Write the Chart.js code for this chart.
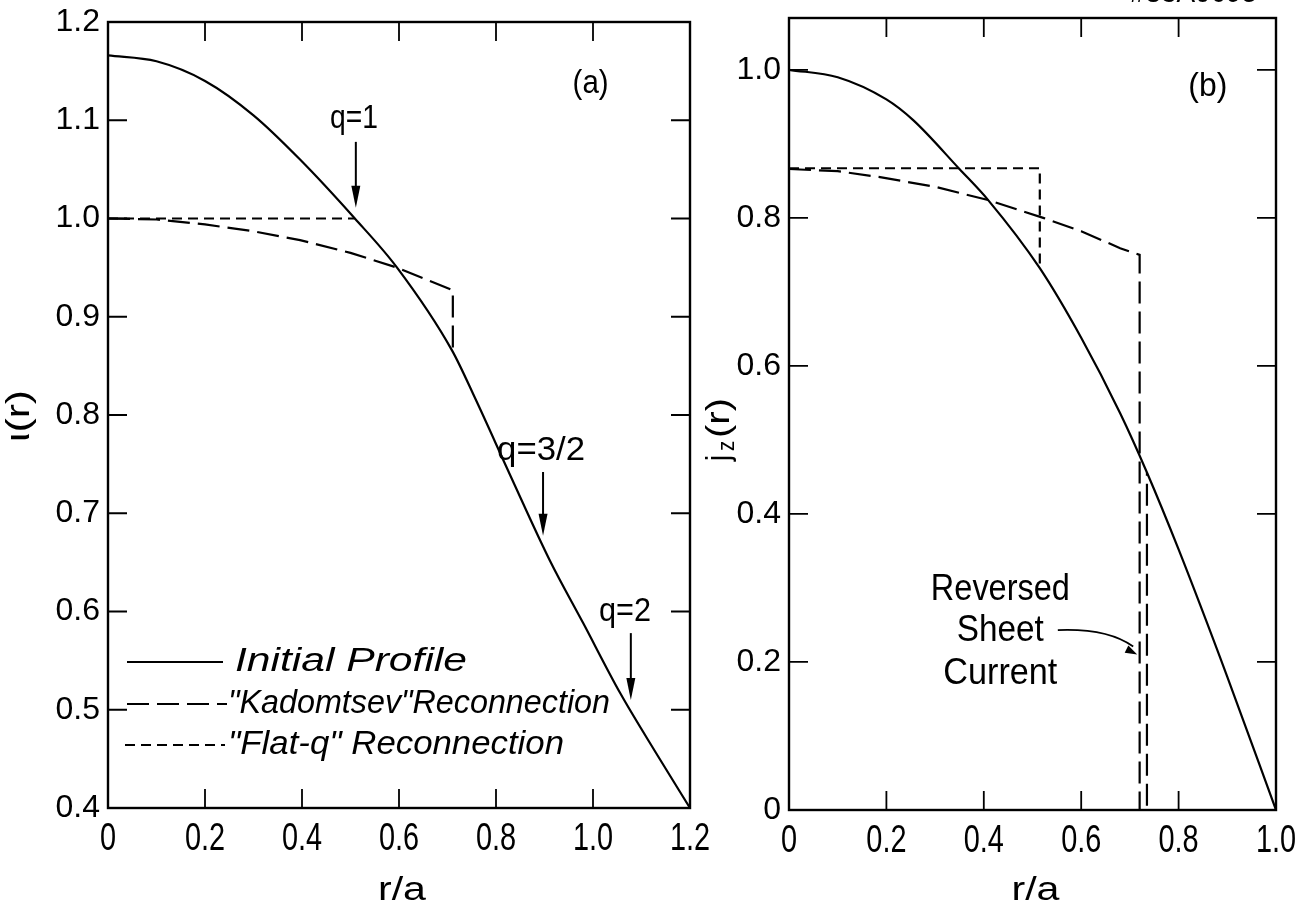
<!DOCTYPE html>
<html lang="en">
<head>
<meta charset="UTF-8">
<title>Iota and current profiles</title>
<script src="https://cdn.jsdelivr.net/npm/chart.js"></script>
<style>
  body { margin: 0; background: #fff; }
  #wrap { position: relative; width: 1306px; height: 908px; overflow: hidden; }
  canvas { position: absolute; top: 0; }
</style>
</head>
<body>
<div id="wrap">
  <canvas id="iotaChart" width="720" height="908" style="left:0"></canvas>
  <canvas id="currentChart" width="616" height="908" style="left:690px"></canvas>
</div>
<script>
// (a) rotational transform iota(r)
const iotaR       = [0, 0.1, 0.2, 0.3, 0.396, 0.509, 0.596, 0.709, 0.757, 0.83, 0.911, 0.98, 1.056, 1.13, 1.2];
const iotaInitial = [1.166, 1.16, 1.14, 1.105, 1.06, 1.0, 0.95, 0.866, 0.817, 0.738, 0.652, 0.588, 0.517, 0.456, 0.4];
const kadR        = [0, 0.1, 0.2, 0.3, 0.396, 0.5, 0.596, 0.711, 0.711];
const kadIota     = [1.0, 0.999, 0.994, 0.987, 0.978, 0.965, 0.95, 0.927, 0.866];
const flatR       = [0, 0.509];
const flatIota    = [1.0, 1.0];
const iotaTicksX  = [0, 0.2, 0.4, 0.6, 0.8, 1.0, 1.2];
const iotaTicksY  = [0.4, 0.5, 0.6, 0.7, 0.8, 0.9, 1.0, 1.1, 1.2];

// (b) current density jz(r)
const jR          = [0, 0.1, 0.2, 0.255, 0.35, 0.409, 0.515, 0.6, 0.68, 0.735, 0.8, 0.9, 1.0];
const jInitial    = [1.0, 0.99, 0.96, 0.932, 0.866, 0.824, 0.732, 0.638, 0.536, 0.456, 0.352, 0.18, 0];
const kadJR       = [0, 0.1, 0.187, 0.3, 0.409, 0.522, 0.6, 0.68, 0.72, 0.72, 0.735, 0.735];
const kadJ        = [0.866, 0.863, 0.855, 0.842, 0.824, 0.80, 0.782, 0.759, 0.75, 0, 0, 0.456];
const flatJR      = [0, 0.515, 0.515];
const flatJ       = [0.867, 0.867, 0.732];
const jTicks      = [0, 0.2, 0.4, 0.6, 0.8, 1.0];

const SANS = "'Liberation Sans', Arial, sans-serif";
const LONG_DASH  = [22, 8];
const SHORT_DASH = [10, 6];

const xy = (xs, ys) => xs.map((x, i) => ({ x, y: ys[i] }));
const fmt = v => (v === 0 ? '0' : v.toFixed(1));

// hand-lettered text is narrow: squeeze a string to a width (w) or by a factor (k)
function fitText(ctx, s, x, y, w, size, align, italic, k) {
  ctx.save();
  ctx.font = (italic ? 'italic ' : '') + size + 'px ' + SANS;
  ctx.textBaseline = 'middle';
  ctx.textAlign = align || 'center';
  const sx = k || w / ctx.measureText(s).width;
  ctx.translate(x, y);
  ctx.scale(sx, 1);
  ctx.fillText(s, 0, 0);
  ctx.restore();
}

function arrowHead(ctx, x, y, ang, len, half) {
  ctx.beginPath();
  ctx.moveTo(x, y);
  ctx.lineTo(x - len * Math.cos(ang) + half * Math.sin(ang), y - len * Math.sin(ang) - half * Math.cos(ang));
  ctx.lineTo(x - len * Math.cos(ang) - half * Math.sin(ang), y - len * Math.sin(ang) + half * Math.cos(ang));
  ctx.closePath();
  ctx.fill();
}

// frame with inward ticks on every side, r/a tick labels, plus the lettering
const overlay = {
  id: 'overlay',
  afterDatasetsDraw(chart, args, o) {
    const { ctx, chartArea: a, scales: { x, y } } = chart;
    ctx.save();
    ctx.strokeStyle = '#000';
    ctx.fillStyle = '#000';
    ctx.lineWidth = 2.4;
    ctx.strokeRect(a.left, a.top, a.right - a.left, a.bottom - a.top);

    ctx.lineWidth = 1.8;
    ctx.beginPath();
    o.xTicks.forEach(v => {
      const px = x.getPixelForValue(v);
      ctx.moveTo(px, a.bottom); ctx.lineTo(px, a.bottom - o.tick);
      ctx.moveTo(px, a.top);    ctx.lineTo(px, a.top + o.tick);
    });
    o.yTicks.forEach(v => {
      const py = y.getPixelForValue(v);
      ctx.moveTo(a.left, py);  ctx.lineTo(a.left + o.tick, py);
      ctx.moveTo(a.right, py); ctx.lineTo(a.right - o.tick, py);
    });
    ctx.stroke();

    // narrow r/a tick labels taken from the x scale
    x.ticks.forEach(t => {
      fitText(ctx, fmt(t.value), x.getPixelForValue(t.value), a.bottom + 31, 0, 39, 'center', false, 0.74);
    });

    // vertical arrows pointing at the curve
    (o.arrows || []).forEach(ar => {
      const px = x.getPixelForValue(ar.r);
      const y0 = y.getPixelForValue(ar.from), y1 = y.getPixelForValue(ar.to);
      ctx.lineWidth = 2;
      ctx.beginPath(); ctx.moveTo(px, y0); ctx.lineTo(px, y1 - 18); ctx.stroke();
      arrowHead(ctx, px, y1, Math.PI / 2, 22, 4.5);
    });

    (o.texts || []).forEach(t => {
      fitText(ctx, t.s, x.getPixelForValue(t.r), y.getPixelForValue(t.v), t.w, t.size, 'center', t.italic);
    });

    // legend rows
    (o.legend || []).forEach(l => {
      ctx.lineWidth = 2;
      ctx.setLineDash(l.dash);
      ctx.beginPath(); ctx.moveTo(l.x0, l.y); ctx.lineTo(l.x1, l.y); ctx.stroke();
      ctx.setLineDash([]);
      fitText(ctx, l.s, l.tx, l.y, l.w, 34, 'left', true);
    });

    if (o.sheetArrow) {
      const s = o.sheetArrow;
      const x0 = x.getPixelForValue(s.r0), y0 = y.getPixelForValue(s.v0);
      const x1 = x.getPixelForValue(s.r1), y1 = y.getPixelForValue(s.v1);
      ctx.lineWidth = 1.8;
      ctx.beginPath();
      ctx.moveTo(x0, y0);
      ctx.quadraticCurveTo((x0 + x1) / 2 + 10, y0 - 2, x1 - 4, y1 - 8);
      ctx.stroke();
      arrowHead(ctx, x1, y1, Math.atan2(y1 - y0 + 6, x1 - x0 - 20), 12, 4);
    }

    // axis titles
    const cx = (a.left + a.right) / 2;
    fitText(ctx, 'r/a', cx + 3, 891, 48, 34, 'center', false);
    ctx.save();
    ctx.translate(o.yTitle.x, o.yTitle.y);
    ctx.rotate(-Math.PI / 2);
    if (o.yTitle.sub) {
      // j with a lowered z, then (r)
      fitText(ctx, 'j', -26, 0, 0, 34, 'center', false, 0.8);
      fitText(ctx, 'z', -14, 7, 0, 24, 'center', false, 0.85);
      fitText(ctx, '(r)', 14, 0, 40, 34, 'center', false);
    } else {
      fitText(ctx, o.yTitle.s, 0, 0, o.yTitle.w, 34, 'center', false);
    }
    ctx.restore();

    if (o.stamp) fitText(ctx, o.stamp.s, o.stamp.x, o.stamp.y, o.stamp.w, 30, 'left', false);
    ctx.restore();
  }
};

function lineSet(label, data, dash) {
  return {
    label, data,
    borderColor: '#000', borderWidth: 2.2, borderDash: dash,
    pointRadius: 0, fill: false, tension: 0
  };
}

function scales(xMax, yMin, yMax, yStep, yWidth, xHeight) {
  return {
    x: {
      type: 'linear', min: 0, max: xMax,
      grid: { display: false, drawTicks: false }, border: { display: false },
      ticks: { stepSize: 0.2, display: false },
      afterFit: s => { s.height = xHeight; s.paddingLeft = 0; s.paddingRight = 0; }
    },
    y: {
      type: 'linear', min: yMin, max: yMax,
      grid: { display: false, drawTicks: false }, border: { display: false },
      ticks: { stepSize: yStep, padding: 8, includeBounds: false, color: '#000', font: { family: SANS, size: 32 }, callback: fmt },
      afterFit: s => { s.width = yWidth; s.paddingTop = 0; s.paddingBottom = 0; }
    }
  };
}

// (a) iota profiles
new Chart(document.getElementById('iotaChart'), {
  type: 'line',
  data: {
    datasets: [
      { ...lineSet('Initial Profile', xy(iotaR, iotaInitial), []), cubicInterpolationMode: 'monotone' },
      lineSet('"Kadomtsev" Reconnection', xy(kadR, kadIota), LONG_DASH),
      lineSet('"Flat-q" Reconnection', xy(flatR, flatIota), SHORT_DASH)
    ]
  },
  options: {
    responsive: false, animation: false,
    layout: { padding: { top: 22, right: 30, left: 0, bottom: 0 } },
    plugins: {
      legend: { display: false }, tooltip: { enabled: false },
      overlay: {
        tick: 19, xTicks: iotaTicksX, yTicks: iotaTicksY,
        arrows: [
          { r: 0.511, from: 1.078, to: 1.011 },
          { r: 0.897, from: 0.742, to: 0.677 },
          { r: 1.078, from: 0.578, to: 0.51 }
        ],
        texts: [
          { s: 'q=1', r: 0.507, v: 1.102, w: 48, size: 34 },
          { s: 'q=3/2', r: 0.893, v: 0.764, w: 88, size: 34 },
          { s: 'q=2', r: 1.066, v: 0.6, w: 52, size: 34 },
          { s: '(a)', r: 0.995, v: 1.137, w: 36, size: 34 }
        ],
        legend: [
          { s: 'Initial Profile', y: 662, x0: 127, x1: 223, tx: 235, w: 232, dash: [] },
          { s: '"Kadomtsev"Reconnection', y: 704, x0: 127, x1: 227, tx: 228, w: 382, dash: LONG_DASH },
          { s: '"Flat-q" Reconnection', y: 745, x0: 125, x1: 225, tx: 228, w: 336, dash: SHORT_DASH }
        ],
        yTitle: { s: 'ι(r)', x: 20, y: 416, w: 52 }
      }
    },
    scales: scales(1.2, 0.4, 1.2, 0.1, 108, 100)
  },
  plugins: [overlay]
});

// (b) current density profiles
new Chart(document.getElementById('currentChart'), {
  type: 'line',
  data: {
    datasets: [
      { ...lineSet('Initial Profile', xy(jR, jInitial), []), cubicInterpolationMode: 'monotone' },
      lineSet('"Kadomtsev" Reconnection', xy(kadJR, kadJ), LONG_DASH),
      lineSet('"Flat-q" Reconnection', xy(flatJR, flatJ), SHORT_DASH)
    ]
  },
  options: {
    responsive: false, animation: false,
    layout: { padding: { top: 18, right: 30, left: 0, bottom: 0 } },
    plugins: {
      legend: { display: false }, tooltip: { enabled: false },
      overlay: {
        tick: 19, xTicks: jTicks, yTicks: jTicks,
        texts: [
          { s: 'Reversed', r: 0.434, v: 0.297, w: 139, size: 36 },
          { s: 'Sheet', r: 0.434, v: 0.242, w: 87, size: 36 },
          { s: 'Current', r: 0.434, v: 0.184, w: 114, size: 36 },
          { s: '(b)', r: 0.86, v: 0.977, w: 39, size: 34 }
        ],
        sheetArrow: { r0: 0.552, v0: 0.243, r1: 0.715, v1: 0.21 },
        yTitle: { sub: true, x: 30, y: 432 },
        stamp: { s: '#83A0695', x: 440, y: -6, w: 127 }
      }
    },
    scales: scales(1.0, 0, 1.07, 0.2, 99, 98)
  },
  plugins: [overlay]
});
</script>
</body>
</html>
